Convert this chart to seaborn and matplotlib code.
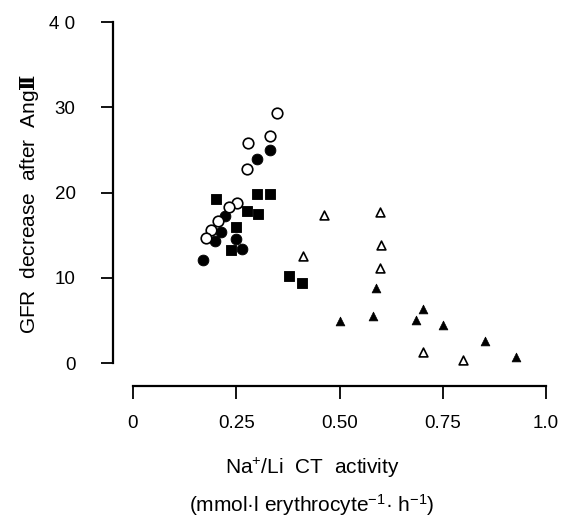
import seaborn as sns
import matplotlib.pyplot as plt

# open circles
oc_x = [0.348, 0.332, 0.279, 0.277, 0.253, 0.232, 0.207, 0.190, 0.177]
oc_y = [29.3, 26.6, 25.8, 22.7, 18.8, 18.3, 16.6, 15.6, 14.7]
# filled circles
fc_x = [0.332, 0.300, 0.222, 0.213, 0.199, 0.249, 0.263, 0.170]
fc_y = [25.0, 23.9, 17.3, 15.4, 14.3, 14.5, 13.4, 12.1]
# filled squares
sq_x = [0.200, 0.300, 0.332, 0.275, 0.303, 0.249, 0.237, 0.378, 0.408]
sq_y = [19.2, 19.8, 19.8, 17.8, 17.5, 16.0, 13.2, 10.2, 9.4]
# open triangles
ot_x = [0.463, 0.598, 0.600, 0.411, 0.598, 0.703, 0.800]
ot_y = [17.4, 17.7, 13.8, 12.5, 11.1, 1.25, 0.3]
# filled triangles
ft_x = [0.588, 0.701, 0.501, 0.580, 0.685, 0.751, 0.852, 0.927]
ft_y = [8.75, 6.3, 4.9, 5.5, 5.0, 4.5, 2.6, 0.7]

x_ticks = [0, 0.25, 0.5, 0.75, 1.0]
x_ticklabels = ['0', '0.25', '0.50', '0.75', '1.0']
y_ticks = [0, 10, 20, 30, 40]
y_ticklabels = ['0', '10', '20', '30', '4 0']

sns.set_style("ticks")
plt.rcParams['font.family'] = ['Liberation Sans', 'DejaVu Sans']
plt.rcParams['text.color'] = 'black'
plt.rcParams['axes.labelcolor'] = 'black'
plt.rcParams['mathtext.fontset'] = 'custom'
plt.rcParams['mathtext.rm'] = 'Liberation Sans'
plt.rcParams['mathtext.it'] = 'Liberation Sans'
plt.rcParams['mathtext.bf'] = 'DejaVu Serif:bold'

fig = plt.figure(figsize=(5.63, 5.17), dpi=100)
ax = fig.add_axes([113 / 563, 1 - 386 / 517, (546 - 113) / 563, (386 - 22) / 517])

sns.scatterplot(x=fc_x, y=fc_y, marker='o', s=60, color='black', edgecolor='black', ax=ax)
sns.scatterplot(x=oc_x, y=oc_y, marker='o', s=58, facecolor='white', edgecolor='black', linewidth=1.2, ax=ax)
sns.scatterplot(x=sq_x, y=sq_y, marker='s', s=62, color='black', edgecolor='black', ax=ax)
sns.scatterplot(x=ot_x, y=ot_y, marker='^', s=40, facecolor='white', edgecolor='black', linewidth=1.2, ax=ax)
sns.scatterplot(x=ft_x, y=ft_y, marker='^', s=40, color='black', edgecolor='black', ax=ax)

ax.set_xlim(-20 / 413, 1.0)
ax.set_ylim(-23 / 8.53, 40)
ax.set_xticks(x_ticks)
ax.set_xticklabels(x_ticklabels)
ax.set_yticks(y_ticks)
ax.set_yticklabels(y_ticklabels)
ax.tick_params(axis='both', direction='out', length=9, width=1.3, labelsize=13.5, colors='black')
ax.tick_params(axis='y', pad=18)
ax.tick_params(axis='x', pad=12)
sns.despine(ax=ax)
ax.spines['left'].set_bounds(0, 40)
ax.spines['bottom'].set_bounds(0, 1.0)
for side in ['left', 'bottom']:
    ax.spines[side].set_linewidth(1.6)
    ax.spines[side].set_color('black')

ax.set_ylabel('GFR  decrease  after  Ang$\\mathbf{\u2161}$', fontsize=15, labelpad=6)
fig.text(312 / 563, 1 - 468 / 517, 'Na$^{+}$/Li  CT  activity', fontsize=15,
         ha='center', va='center')
fig.text(312 / 563, 1 - 505 / 517, '(mmol\u00b7l erythrocyte$^{-1}$\u00b7 h$^{-1}$)',
         fontsize=15, ha='center', va='center')

fig.savefig('out.png', dpi=100)
